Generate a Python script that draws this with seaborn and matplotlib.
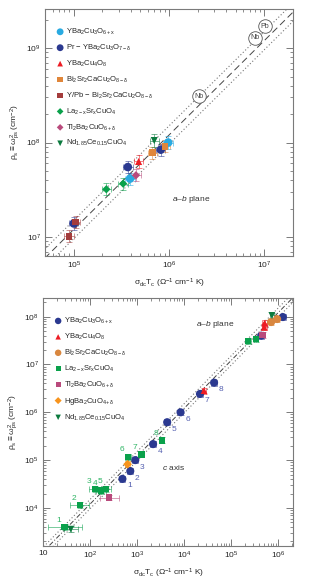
import numpy as np
import pandas as pd
import matplotlib
matplotlib.use("Agg")
import matplotlib.pyplot as plt
import seaborn as sns

sns.set_style("ticks")
plt.rcParams['font.family'] = ['Liberation Sans', 'DejaVu Sans']
plt.rcParams['mathtext.fontset'] = 'custom'
plt.rcParams['mathtext.rm'] = 'Liberation Sans'
plt.rcParams['mathtext.it'] = 'Liberation Sans:italic'
plt.rcParams['mathtext.bf'] = 'Liberation Sans:bold'
plt.rcParams['mathtext.default'] = 'rm'

# ---------------- data: a-b plane (top panel) ----------------
top_names = ["YBa$_2$Cu$_3$O$_{6+x}$",
             "Pr − YBa$_2$Cu$_3$O$_{7−δ}$",
             "YBa$_2$Cu$_4$O$_8$",
             "Bi$_2$Sr$_2$CaCu$_2$O$_{8−δ}$",
             "Y/Pb − Bi$_2$Sr$_2$CaCu$_2$O$_{8−δ}$",
             "La$_{2−x}$Sr$_x$CuO$_4$",
             "Tl$_2$Ba$_2$CuO$_{6+δ}$",
             "Nd$_{1.85}$Ce$_{0.15}$CuO$_4$"]
top_colors = ["#29aae1", "#2b3990", "#ed1c24", "#e0863a", "#a43c3c", "#0aa14b", "#b94a7c", "#0b7a3e"]
top_markers = ["o", "o", "^", "s", "s", "D", "D", "v"]
top_sizes = [38, 38, 26, 24, 24, 18, 18, 26]

top_x = [[9.8e5, 3.9e5],
         [8.2e5, 3.7e5, 1.0e5],
         [4.8e5],
         [6.7e5, 9.1e5],
         [1.05e5, 8.9e4],
         [2.2e5, 3.3e5],
         [4.5e5],
         [7.0e5]]
top_y = [[1.0e8, 4.15e7],
         [8.4e7, 5.5e7, 1.39e7],
         [6.3e7],
         [7.8e7, 9.1e7],
         [1.44e7, 1.02e7],
         [3.2e7, 3.67e7],
         [4.5e7],
         [1.05e8]]

elem_x = [2.08e6, 7.9e6, 1.02e7]
elem_y = [3.1e8, 1.29e9, 1.71e9]
elem_lbl = ["Nb", "Nb", "Pb"]

# ---------------- data: c axis + a-b (bottom panel) ----------------
bot_names = ["YBa$_2$Cu$_3$O$_{6+x}$",
             "YBa$_2$Cu$_4$O$_8$",
             "Bi$_2$Sr$_2$CaCu$_2$O$_{8−δ}$",
             "La$_{2−x}$Sr$_x$CuO$_4$",
             "Tl$_2$Ba$_2$CuO$_{6+δ}$",
             "HgBa$_2$CuO$_{4+δ}$",
             "Nd$_{1.85}$Ce$_{0.15}$CuO$_4$"]
bot_colors = ["#2b3990", "#ed1c24", "#d9873f", "#0aa14b", "#b94a7c", "#f7941d", "#0b7a3e"]
bot_markers = ["o", "^", "o", "s", "s", "D", "v"]
bot_sizes = [34, 24, 34, 22, 22, 20, 24]

bot_x = [[490, 720, 920, 2200, 4390, 8450, 2.19e4, 4.37e4, 4.4e5, 1.27e6],
         [2.67e4, 5.1e5, 5.2e5],
         [7.15e5, 9.6e5],
         [29, 61, 128, 172, 220, 640, 1240, 3430, 2.33e5, 3.4e5],
         [255, 4.7e5],
         [630],
         [39, 7.4e5]]
bot_y = [[4.05e4, 5.9e4, 1.0e5, 2.16e5, 6.2e5, 1.0e6, 2.42e6, 4.17e6, 4.0e7, 9.8e7],
         [2.84e6, 6.0e7, 7.3e7],
         [7.7e7, 8.9e7],
         [4.0e3, 1.14e4, 2.5e4, 2.3e4, 2.5e4, 1.17e5, 1.32e5, 2.6e5, 3.1e7, 3.4e7],
         [1.65e4, 4.1e7],
         [8.2e4],
         [3.6e3, 1.06e8]]
# multiplicative error factors in x
bot_xf = [[1.15] * 10,
          [1.12] * 3,
          [1.12] * 2,
          [2.3, 1.6, 1.35, 1.3, 1.3, 1.15, 1.15, 1.12, 1.12, 1.12],
          [1.6, 1.12],
          [1.15],
          [1.4, 1.12]]
bot_yf = 1.15

# numbered c-axis samples
ybco_nums = ["1", "2", "3", "4", "5", "6", "7", "8"]
lsco_nums = ["1", "2", "3", "4", "5", "6", "7", "8"]

fig = plt.figure(figsize=(3.15, 5.79), dpi=100)
ax1 = fig.add_axes([0.143, 0.558, 0.787, 0.4266])
ax2 = fig.add_axes([0.1365, 0.057, 0.794, 0.4283])

spine_c = "#7a7a7a"
for ax in (ax1, ax2):
    ax.set_xscale("log")
    ax.set_yscale("log")
    for s in ax.spines.values():
        s.set_color(spine_c)
        s.set_linewidth(0.8)
    ax.tick_params(which="both", direction="in", top=True, right=True,
                   color=spine_c, labelsize=6, pad=3)
    ax.tick_params(which="major", length=5, width=0.7)
    ax.tick_params(which="minor", length=2.5, width=0.6)

# reference lines
xx = np.array([1.0, 1e8])
for ax, dstyle in ((ax1, (0, (7, 4))), (ax2, (0, (5, 2, 1, 2)))):
    ax.plot(xx, 120 * xx, color="#444444", lw=0.7, ls=dstyle, zorder=1)
    ax.plot(xx, 150 * xx, color="#777777", lw=0.8, ls=(0, (1, 2)), zorder=1)
    ax.plot(xx, 96 * xx, color="#777777", lw=0.8, ls=(0, (1, 2)), zorder=1)

# ---- top panel points ----
for name, c, m, sz, xs, ys in zip(top_names, top_colors, top_markers, top_sizes, top_x, top_y):
    xs = np.array(xs); ys = np.array(ys)
    ax1.errorbar(xs, ys, xerr=[xs - xs / 1.12, xs * 1.12 - xs],
                 yerr=[ys - ys / 1.16, ys * 1.16 - ys], fmt="none",
                 ecolor=c, alpha=0.55, elinewidth=0.7, capsize=2.2, capthick=0.7, zorder=2)
    sns.scatterplot(x=xs, y=ys, ax=ax1, marker=m, color=c, s=sz, edgecolor="none",
                    label=name, zorder=3)

ax1.scatter(elem_x, elem_y, s=95, facecolor="white", edgecolor="#555555", lw=0.6, zorder=5)
for ex, ey, el in zip(elem_x, elem_y, elem_lbl):
    ax1.text(ex, ey, el, fontsize=5, ha="center", va="center", color="#444444", zorder=6)

ax1.set_xlim(5e4, 2e7)
ax1.set_ylim(6.3e6, 2.6e9)
ax1.set_xticks([1e5, 1e6, 1e7])
ax1.set_xticklabels(["$10^5$", "$10^6$", "$10^7$"])
ax1.set_yticks([1e7, 1e8, 1e9])
ax1.set_yticklabels(["$10^7$", "$10^8$", "$10^9$"])
ax1.text(0.59, 0.227, "$\\mathit{a}$–$\\mathit{b}$ plane", transform=ax1.transAxes,
         fontsize=6, ha="center", va="center", color="#333333")

# ---- bottom panel points ----
for name, c, m, sz, xs, ys, xf in zip(bot_names, bot_colors, bot_markers, bot_sizes, bot_x, bot_y, bot_xf):
    xs = np.array(xs); ys = np.array(ys); xf = np.array(xf)
    ax2.errorbar(xs, ys, xerr=[xs - xs / xf, xs * xf - xs],
                 yerr=[ys - ys / bot_yf, ys * bot_yf - ys], fmt="none",
                 ecolor=c, alpha=0.55, elinewidth=0.7, capsize=2.0, capthick=0.7, zorder=2)
    sns.scatterplot(x=xs, y=ys, ax=ax2, marker=m, color=c, s=sz, edgecolor="none",
                    label=name, zorder=3)

for lbl, px, py in zip(ybco_nums, bot_x[0][:8], bot_y[0][:8]):
    ax2.annotate(lbl, (px, py), xytext=(5, -5), textcoords="offset points",
                 fontsize=6, color="#5560b0", ha="center", va="center")
for lbl, px, py in zip(lsco_nums, bot_x[3][:8], bot_y[3][:8]):
    ax2.annotate(lbl, (px, py), xytext=(-4.5, 5), textcoords="offset points",
                 fontsize=6, color="#2fb565", ha="center", va="center")

ax2.set_xlim(10, 2.1e6)
ax2.set_ylim(1.6e3, 2.45e8)
ax2.set_xticks([10, 1e2, 1e3, 1e4, 1e5, 1e6])
ax2.set_xticklabels(["10", "$10^2$", "$10^3$", "$10^4$", "$10^5$", "$10^6$"])
ax2.set_yticks([1e4, 1e5, 1e6, 1e7, 1e8])
ax2.set_yticklabels(["$10^4$", "$10^5$", "$10^6$", "$10^7$", "$10^8$"])
ax2.text(0.69, 0.895, "$\\mathit{a}$–$\\mathit{b}$ plane", transform=ax2.transAxes,
         fontsize=6, ha="center", va="center", color="#333333")
ax2.text(0.52, 0.315, "$\\mathit{c}$ axis", transform=ax2.transAxes,
         fontsize=6, ha="center", va="center", color="#333333")

ylab = "$\\rho_s \\equiv \\omega_{ps}^2$ (cm$^{-2}$)"
xlab = "$\\sigma_{dc}T_c$ ($\\Omega^{-1}$ cm$^{-1}$ K)"
for ax in (ax1, ax2):
    ax.set_ylabel(ylab, fontsize=6, labelpad=3)
    ax.set_xlabel(xlab, fontsize=6, labelpad=4)
    leg = ax.legend(loc="upper left", bbox_to_anchor=(0.03, 0.94), frameon=False,
                    fontsize=5.5, handletextpad=0.2, labelspacing=0.75,
                    borderaxespad=0, handlelength=1.2, markerscale=0.8)

fig.savefig("out.png", dpi=100)
